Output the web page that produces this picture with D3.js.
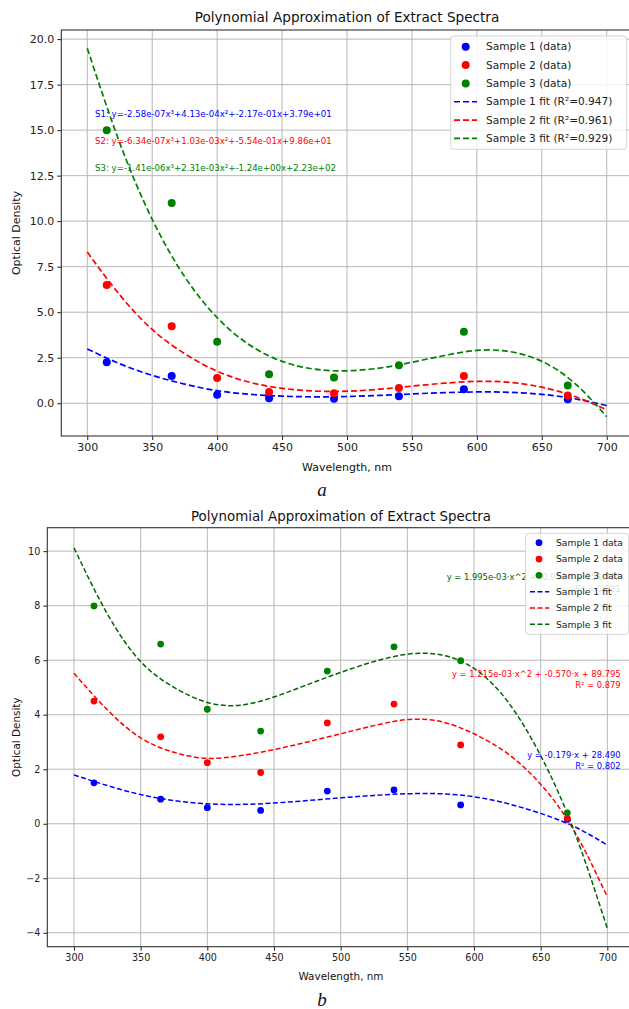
<!DOCTYPE html>
<html><head><meta charset="utf-8">
<script src="https://cdn.jsdelivr.net/npm/d3@7"></script>
<style>body{margin:0;background:#fff}svg{display:block}</style>
</head><body>
<svg id="c" width="629" height="1009"></svg>
<script>
// ---------- data ----------
const wavelengths = [315, 365, 400, 440, 490, 540, 590, 670];
const fitX = [300, 325, 350, 375, 400, 425, 450, 475, 500, 525, 550, 575, 600, 625, 650, 675, 700];
const xTicks = [300, 350, 400, 450, 500, 550, 600, 650, 700];

// chart a
const aSample1 = [2.25, 1.5, 0.47, 0.27, 0.24, 0.38, 0.77, 0.22];
const aSample2 = [6.5, 4.23, 1.39, 0.62, 0.55, 0.84, 1.5, 0.42];
const aSample3 = [15.0, 11.0, 3.37, 1.59, 1.41, 2.09, 3.92, 0.97];
const aFit1 = [2.98, 2.17, 1.53, 1.05, 0.69, 0.49, 0.39, 0.35, 0.37, 0.43, 0.51, 0.58, 0.62, 0.60, 0.49, 0.25, -0.13];
const aFit2 = [8.3, 5.95, 4.05, 2.72, 1.76, 1.15, 0.82, 0.67, 0.66, 0.77, 0.94, 1.1, 1.2, 1.15, 0.88, 0.38, -0.36];
const aFit3 = [19.5, 14.3, 10.1, 6.95, 4.7, 3.2, 2.3, 1.87, 1.78, 1.93, 2.25, 2.62, 2.9, 2.84, 2.3, 1.12, -0.74];
const aYTicks = [0, 2.5, 5, 7.5, 10, 12.5, 15, 17.5, 20];
const aLegend = ["Sample 1 (data)", "Sample 2 (data)", "Sample 3 (data)",
  "Sample 1 fit (R\u00b2=0.947)", "Sample 2 fit (R\u00b2=0.961)", "Sample 3 fit (R\u00b2=0.929)"];
const aEquations = [
  "S1: y=-2.58e-07x\u00b3+4.13e-04x\u00b2+-2.17e-01x+3.79e+01",
  "S2: y=-6.34e-07x\u00b3+1.03e-03x\u00b2+-5.54e-01x+9.86e+01",
  "S3: y=-1.41e-06x\u00b3+2.31e-03x\u00b2+-1.24e+00x+2.23e+02"];

// chart b
const bSample1 = [1.5, 0.9, 0.59, 0.49, 1.2, 1.24, 0.69, 0.16];
const bSample2 = [4.5, 3.19, 2.24, 1.88, 3.7, 4.39, 2.89, 0.2];
const bSample3 = [7.99, 6.59, 4.2, 3.4, 5.6, 6.49, 5.98, 0.4];
const bFit1 = [1.79, 1.40, 1.07, 0.85, 0.73, 0.71, 0.76, 0.85, 0.95, 1.04, 1.1, 1.1, 0.99, 0.74, 0.38, -0.1, -0.78];
const bFit2 = [5.52, 4.18, 3.15, 2.62, 2.40, 2.50, 2.72, 3.0, 3.3, 3.6, 3.82, 3.75, 3.3, 2.58, 1.45, -0.25, -2.68];
const bFit3 = [10.12, 7.7, 5.95, 5.0, 4.45, 4.35, 4.65, 5.1, 5.55, 5.95, 6.22, 6.2, 5.7, 4.5, 2.5, -0.25, -3.84];
const bYTicks = [-4, -2, 0, 2, 4, 6, 8, 10];
const bLegend = ["Sample 1 data", "Sample 2 data", "Sample 3 data", "Sample 1 fit", "Sample 2 fit", "Sample 3 fit"];
const bEquations = [
  ["y = 1.995e-03\u00b7x^2 + -0.947\u00b7x + 151.715", "R\u00b2 = 0.881"],
  ["y = 1.215e-03\u00b7x^2 + -0.570\u00b7x + 89.795", "R\u00b2 = 0.879"],
  ["y = -0.179\u00b7x + 28.490", "R\u00b2 = 0.802"]];

const title = "Polynomial Approximation of Extract Spectra";

// ---------- drawing ----------
const svg = d3.select("#c");
const FONT = "DejaVu Sans, sans-serif";

function drawChart(cfg) {
  const x = d3.scaleLinear().domain([280, 720]).range([cfg.left, cfg.right]);
  const y = d3.scaleLinear().domain(cfg.yDomain).range([cfg.bottom, cfg.top]);
  const g = svg.append("g");
  const clipId = "clip" + cfg.id;
  g.append("clipPath").attr("id", clipId).append("rect")
    .attr("x", cfg.left).attr("y", cfg.top).attr("width", cfg.right - cfg.left).attr("height", cfg.bottom - cfg.top);

  // grid
  g.append("g").selectAll("line").data(xTicks).join("line")
    .attr("x1", d => x(d)).attr("x2", d => x(d)).attr("y1", cfg.top).attr("y2", cfg.bottom)
    .attr("stroke", "#b8b8b8").attr("stroke-width", 1);
  g.append("g").selectAll("line").data(cfg.yTicks).join("line")
    .attr("y1", d => y(d)).attr("y2", d => y(d)).attr("x1", cfg.left).attr("x2", cfg.right)
    .attr("stroke", "#b8b8b8").attr("stroke-width", 1);

  // axes
  const xAxis = d3.axisBottom(x).tickValues(xTicks).tickSize(4).tickPadding(3).tickFormat(d3.format("d"));
  const yAxis = d3.axisLeft(y).tickValues(cfg.yTicks).tickSize(4).tickPadding(3).tickFormat(cfg.yFmt);
  const ax = g.append("g").attr("transform", `translate(0,${cfg.bottom})`).call(xAxis);
  const ay = g.append("g").attr("transform", `translate(${cfg.left},0)`).call(yAxis);
  [ax, ay].forEach(a => {
    a.select(".domain").remove();
    a.selectAll("line").attr("stroke", "#222");
    a.selectAll("text").attr("font-family", FONT).attr("font-size", cfg.tickFont).attr("fill", "#222");
  });
  // spines
  g.append("rect").attr("x", cfg.left).attr("y", cfg.top).attr("width", cfg.right - cfg.left)
    .attr("height", cfg.bottom - cfg.top).attr("fill", "none").attr("stroke", "#333").attr("stroke-width", 1.1);

  const plot = g.append("g").attr("clip-path", `url(#${clipId})`);
  const line = d3.line().x((d, i) => x(fitX[i])).y(d => y(d)).curve(d3.curveNatural);
  cfg.fits.forEach((f, k) => {
    plot.append("path").attr("d", line(f)).attr("fill", "none").attr("stroke", cfg.fitColors[k])
      .attr("stroke-width", cfg.lineW).attr("stroke-dasharray", cfg.dash);
  });
  cfg.samples.forEach((s, k) => {
    plot.append("g").selectAll("circle").data(s).join("circle")
      .attr("cx", (d, i) => x(wavelengths[i])).attr("cy", d => y(d)).attr("r", cfg.dotR)
      .attr("fill", cfg.dotColors[k]);
  });

  // title & labels
  g.append("text").attr("x", cfg.titleX).attr("y", cfg.titleY).attr("text-anchor", "middle")
    .attr("font-family", FONT).attr("font-size", cfg.titleFont).attr("fill", "#111").text(title);
  g.append("text").attr("x", cfg.titleX).attr("y", cfg.xLabelY).attr("text-anchor", "middle")
    .attr("font-family", FONT).attr("font-size", cfg.labelFont).attr("fill", "#111").text("Wavelength, nm");
  g.append("text").attr("transform", `translate(${cfg.yLabelX},${(cfg.top + cfg.bottom) / 2}) rotate(-90)`)
    .attr("text-anchor", "middle").attr("font-family", FONT).attr("font-size", cfg.labelFont)
    .attr("fill", "#111").text("Optical Density");
  g.append("text").attr("x", cfg.captionX).attr("y", cfg.captionY).attr("text-anchor", "middle")
    .attr("font-family", "Liberation Serif, serif").attr("font-style", "italic").attr("font-size", 19)
    .attr("fill", "#111").text(cfg.caption);
  return {g, x, y};
}

// ----- chart a -----
const A = drawChart({
  id: "a", left: 61.3, right: 632.7, top: 30, bottom: 436, yDomain: [-1.8, 20.5],
  yTicks: aYTicks, yFmt: d3.format(".1f"), tickFont: 11, titleFont: 13.6, labelFont: 11,
  titleX: 347, titleY: 22, xLabelY: 471, yLabelX: 20, caption: "a", captionX: 322, captionY: 496,
  fits: [aFit1, aFit2, aFit3], samples: [aSample1, aSample2, aSample3],
  fitColors: ["#0000ff", "#ff0000", "#008000"], dotColors: ["#0000ff", "#ff0000", "#008000"],
  lineW: 1.7, dash: "6,3", dotR: 4
});
const eqColA = ["#0000ff", "#ff0000", "#008000"];
const eqYA = [15.9, 14.4, 12.9];
aEquations.forEach((t, i) => {
  A.g.append("text").attr("x", A.x(306)).attr("y", A.y(eqYA[i]) + 3).attr("font-family", FONT)
    .attr("font-size", 8.6).attr("fill", eqColA[i]).text(t);
});
function legend(g, lx, ly, w, h, rowY0, rowDy, markX, lineX0, lineX1, textX, font, labels, colors, lineColors, lw, dash, r) {
  g.append("rect").attr("x", lx).attr("y", ly).attr("width", w).attr("height", h).attr("rx", 3)
    .attr("fill", "#fff").attr("fill-opacity", 0.82).attr("stroke", "#d4d4d4");
  labels.forEach((t, i) => {
    const yy = rowY0 + i * rowDy;
    if (i < 3) g.append("circle").attr("cx", markX).attr("cy", yy).attr("r", r).attr("fill", colors[i]);
    else g.append("line").attr("x1", lineX0).attr("x2", lineX1).attr("y1", yy).attr("y2", yy)
      .attr("stroke", lineColors[i - 3]).attr("stroke-width", lw).attr("stroke-dasharray", dash);
    g.append("text").attr("x", textX).attr("y", yy).attr("dy", "0.35em").attr("font-family", FONT)
      .attr("font-size", font).attr("fill", "#222").text(t);
  });
}
legend(A.g, 450.7, 36, 176, 113.3, 46.7, 18.35, 465.7, 454, 477, 486, 10.6, aLegend,
  ["#0000ff", "#ff0000", "#008000"], ["#0000ff", "#ff0000", "#008000"], 1.7, "6,3", 4);

// ----- chart b -----
const B = drawChart({
  id: "b", left: 47.3, right: 634, top: 527.7, bottom: 946.7, yDomain: [-4.51, 10.86],
  yTicks: bYTicks, yFmt: d3.format("d"), tickFont: 9.6, titleFont: 13.4, labelFont: 10.4,
  titleX: 341, titleY: 521, xLabelY: 980, yLabelX: 20, caption: "b", captionX: 322, captionY: 1006,
  fits: [bFit1, bFit2, bFit3], samples: [bSample1, bSample2, bSample3],
  fitColors: ["#0000ff", "#ff0000", "#006400"], dotColors: ["#0000ff", "#ff0000", "#008000"],
  lineW: 1.5, dash: "5,2.5", dotR: 3.4
});
const eqColB = ["#006400", "#ff0000", "#0000ff"];
const eqYB = [[576.7, 589.3], [674, 685], [755.5, 766]];
bEquations.forEach((pair, i) => {
  pair.forEach((t, j) => {
    B.g.append("text").attr("x", 620.7).attr("y", eqYB[i][j]).attr("dy", "0.35em").attr("text-anchor", "end")
      .attr("font-family", FONT).attr("font-size", 8.4).attr("fill", eqColB[i]).text(t);
  });
});
legend(B.g, 525.7, 533.3, 103, 101, 542.7, 16.33, 539, 530, 549.3, 556, 9.2, bLegend,
  ["#0000ff", "#ff0000", "#008000"], ["#0000ff", "#ff0000", "#006400"], 1.5, "5,2.5", 3.4);
</script>
</body></html>
